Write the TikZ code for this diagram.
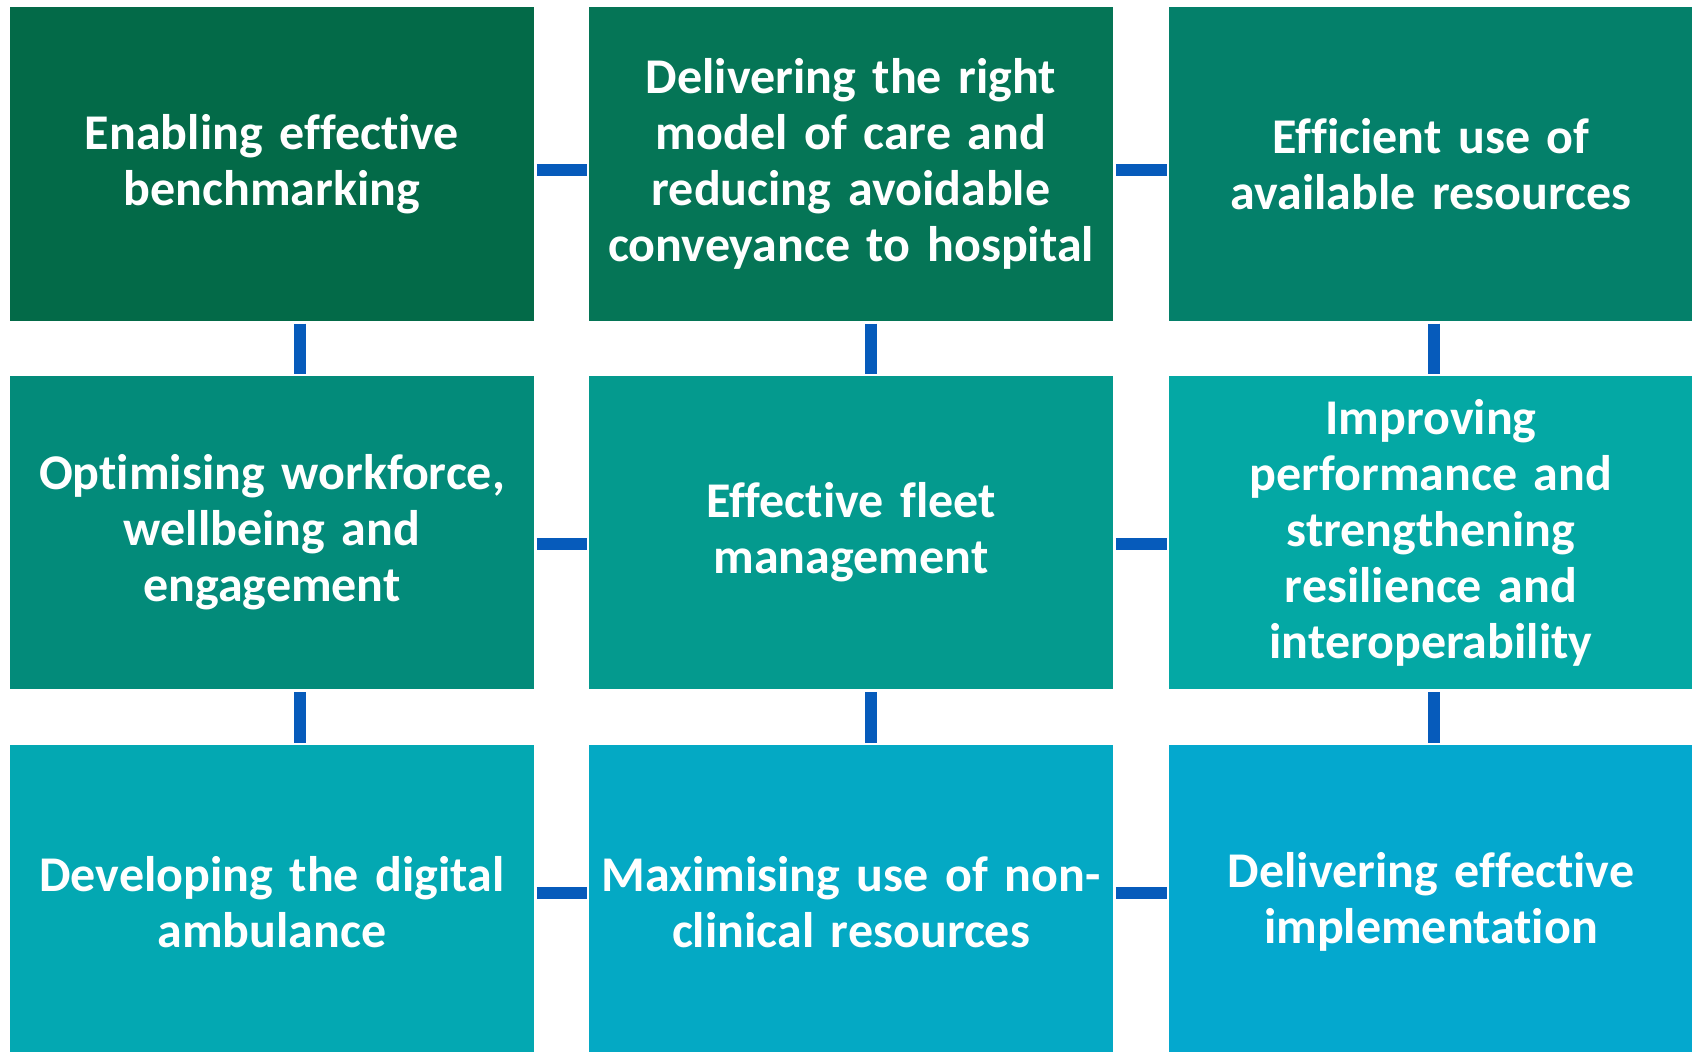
\documentclass[tikz,border=0pt]{standalone}
\usepackage{fontspec}
\setmainfont{Carlito}[WordSpace=0.75, RawFeature={-liga}]
\definecolor{cA}{HTML}{036A48}
\definecolor{cB}{HTML}{057556}
\definecolor{cC}{HTML}{04806A}
\definecolor{cD}{HTML}{038B7A}
\definecolor{cE}{HTML}{049A8E}
\definecolor{cF}{HTML}{04A8A4}
\definecolor{cG}{HTML}{03A8B2}
\definecolor{cH}{HTML}{04A9C4}
\definecolor{cI}{HTML}{04A8CE}
\definecolor{conncol}{HTML}{065BBB}
\tikzset{
  tile/.style={fill=#1, draw=none, minimum width=524pt, minimum height=313.5pt,
    inner sep=0pt, text width=516pt, align=center, text=white,
    font=\fontsize{50}{56}\selectfont\bfseries},
  conn/.style={draw=conncol, line width=12pt, line cap=butt,
    shorten <=2.7pt, shorten >=2pt}
}
\begin{document}
\begin{tikzpicture}[x=1pt,y=-1pt]
\useasboundingbox (0,0) rectangle (1692,1052);
\fill[white] (0,0) rectangle (1692,1052);
% row 1
\node[tile=cA] (a) at (272,164) {Enabling effective\\benchmarking};
\node[tile=cB] (b) at (851,164) {Delivering the right\\model of care and\\reducing avoidable\\conveyance to hospital};
\node[tile=cC] (c) at (1431,164) {Efficient use of\\available resources};
% row 2
\node[tile=cD] (d) at (272,532.65) {Optimising workforce,\\wellbeing and\\engagement};
\node[tile=cE] (e) at (851,532.65) {Effective fleet\\management};
\node[tile=cF] (f) at (1431,532.65) {Improving\\performance and\\strengthening\\resilience and\\interoperability};
% row 3
\node[tile=cG] (g) at (272,901.75) {Developing the digital\\ambulance};
\node[tile=cH] (h) at (851,901.75) {Maximising use of non-\\clinical resources};
\node[tile=cI] (i) at (1431,901.75) {Delivering effective\\implementation};
% horizontal connectors
\draw[conn] ([yshift=-5.5pt]a.east) -- ([yshift=-5.5pt]b.west);
\draw[conn] ([yshift=-5.5pt]b.east) -- ([yshift=-5.5pt]c.west);
\draw[conn] ([yshift=-11.65pt]d.east) -- ([yshift=-11.65pt]e.west);
\draw[conn] ([yshift=-11.65pt]e.east) -- ([yshift=-11.65pt]f.west);
\draw[conn] ([yshift=9.25pt]g.east) -- ([yshift=9.25pt]h.west);
\draw[conn] ([yshift=9.25pt]h.east) -- ([yshift=9.25pt]i.west);
% vertical connectors
\draw[conn] ([xshift=28pt]a.south) -- ([xshift=28pt]d.north);
\draw[conn] ([xshift=28pt]d.south) -- ([xshift=28pt]g.north);
\draw[conn] ([xshift=19.7pt]b.south) -- ([xshift=19.7pt]e.north);
\draw[conn] ([xshift=19.7pt]e.south) -- ([xshift=19.7pt]h.north);
\draw[conn] ([xshift=2.5pt]c.south) -- ([xshift=2.5pt]f.north);
\draw[conn] ([xshift=2.5pt]f.south) -- ([xshift=2.5pt]i.north);
\end{tikzpicture}
\end{document}
